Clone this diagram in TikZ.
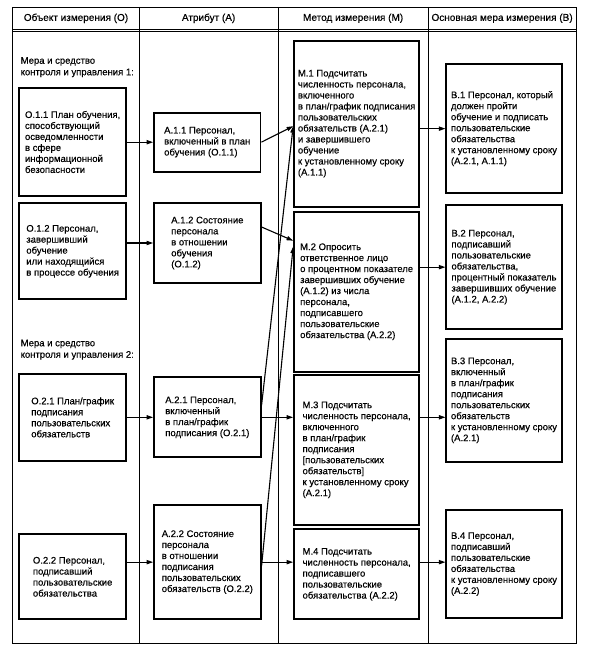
\documentclass[tikz,border=0pt]{standalone}
\usepackage{fontspec}
\setmainfont[FakeBold=0.4]{Liberation Sans}
\usetikzlibrary{arrows.meta,calc}
\begin{document}
\begin{tikzpicture}[x=1pt,y=-1pt,
  box/.style={draw, line width=1.7pt, align=left, inner sep=0pt, font=\fontsize{9.5}{11}\selectfont},
  hdr/.style={font=\fontsize{10}{12}\selectfont, inner sep=0pt},
  lbl/.style={align=left, inner sep=0pt, font=\fontsize{9.5}{11.5}\selectfont},
  frame/.style={line width=0.9pt},
  arr/.style={line width=1.1pt, -{Triangle[length=6.5pt,width=4.2pt]}}]
\newcommand\bx[6]{\node[box, minimum width={#3-#2}, minimum height={#5-#4}] (#1) at ({(#2+#3)/2},{(#4+#5)/2}) {#6};}
\useasboundingbox (0,0) rectangle (591,650);
% frame
\draw[frame] (12.7,7) rectangle (576,643);
\draw[frame] (139.3,7) -- (139.3,643);
\draw[frame] (278,7) -- (278,643);
\draw[frame] (428.3,7) -- (428.3,643);
\draw[line width=0.8pt] (12.7,29.3) -- (576,29.3);
\draw[line width=0.8pt] (12.7,31.8) -- (576,31.8);
% headers
\node[hdr] (h1) at (76,18.3) {Объект измерения (О)};
\node[hdr] (h2) at (208.6,18.3) {Атрибут (А)};
\node[hdr] (h3) at (353.1,18.3) {Метод измерения (М)};
\node[hdr] (h4) at (502.1,18.3) {Основная мера измерения (В)};
% labels
\node[lbl, anchor=north west] (l1) at (20.5,57) {Мера и средство\\контроля и управления 1:};
\node[lbl, anchor=north west] (l2) at (20.5,339.5) {Мера и средство\\контроля и управления 2:};
% boxes
\bx{O11}{19.3}{126}{88}{196}{О.1.1 План обучения,\\способствующий\\осведомленности\\в сфере\\информационной\\безопасности}
\bx{A11}{154}{260.5}{112.7}{171.7}{А.1.1 Персонал,\\включенный в план\\обучения (О.1.1)}
\bx{M1}{294}{419.3}{40.7}{206.7}{М.1 Подсчитать\\численность персонала,\\включенного\\в план/график подписания\\пользовательских\\обязательств (А.2.1)\\и завершившего\\обучение\\к установленному сроку\\(А.1.1)}
\bx{B1}{446.3}{561.7}{64}{193.3}{В.1 Персонал, который\\должен пройти\\обучение и подписать\\пользовательские\\обязательства\\к установленному сроку\\(А.2.1, А.1.1)}
\bx{O12}{19.3}{126}{203.3}{299.3}{О.1.2 Персонал,\\завершивший\\обучение\\или находящийся\\в процессе обучения}
\bx{A12}{154}{260.7}{203.3}{282.7}{А.1.2 Состояние\\персонала\\в отношении\\обучения\\(О.1.2)}
\bx{M2}{294}{419.3}{211.7}{371.7}{М.2 Опросить\\ответственное лицо\\о процентном показателе\\завершивших обучение\\(А.1.2) из числа\\персонала,\\подписавшего\\пользовательские\\обязательства (А.2.2)}
\bx{B2}{446.3}{561.7}{205}{329.3}{В.2 Персонал,\\подписавший\\пользовательские\\обязательства,\\процентный показатель\\завершивших обучение\\(А.1.2, А.2.2)}
\bx{O21}{19.3}{126}{374}{460.7}{О.2.1 План/график\\подписания\\пользовательских\\обязательств}
\bx{A21}{154}{260.7}{377.3}{457.3}{А.2.1 Персонал,\\включенный\\в план/график\\подписания (О.2.1)}
\bx{M3}{294}{419.3}{374.7}{525}{М.3 Подсчитать\\численность персонала,\\включенного\\в план/график\\подписания\\{[}пользовательских\\обязательств{]}\\к установленному сроку\\(А.2.1)}
\bx{B3}{446.3}{561.7}{339}{461.7}{В.3 Персонал,\\включенный\\в план/график\\подписания\\пользовательских\\обязательств\\к установленному сроку\\(А.2.1)}
\bx{O22}{19.3}{126}{534.3}{619.3}{О.2.2 Персонал,\\подписавший\\пользовательские\\обязательства}
\bx{A22}{154}{260.7}{505}{619.3}{А.2.2 Состояние\\персонала\\в отношении\\подписания\\пользовательских\\обязательств (О.2.2)}
\bx{M4}{294}{419.3}{529.3}{619.3}{М.4 Подсчитать\\численность персонала,\\подписавшего\\пользовательские\\обязательства (А.2.2)}
\bx{B4}{446.3}{561.7}{510}{618.3}{В.4 Персонал,\\подписавший\\пользовательские\\обязательства\\к установленному сроку\\(А.2.2)}
% arrows O -> A
\draw[arr] (O11.east |- A11.west) -- (A11.west);
\draw[arr] (O12.east |- A12.west) -- (A12.west);
\draw[arr] (O21.east |- A21.west) -- (A21.west);
\draw[arr] (O22.east |- A22.west) -- (A22.west);
% arrows A -> M
\draw[arr] (A11.east) -- ([yshift=-2.5pt]M1.west);
\draw[arr] ([yshift=16pt]A12.east) -- ([yshift=51pt]M2.west);
\draw[arr] ([yshift=12pt]A21.east) -- ([yshift=-2.5pt]M1.west);
\draw[arr] ([yshift=-4pt]A22.east) -- ([yshift=45pt]M2.west);
\draw[arr] (A21.east) -- (A21.east -| M3.west);
\draw[arr] (A22.east) -- (A22.east -| M4.west);
% arrows M -> B
\draw[arr] (M1.east |- B1.west) -- (B1.west);
\draw[arr] (M2.east |- B2.west) -- (B2.west);
\draw[arr] (M3.east |- A21.east) -- (A21.east -| B3.west);
\draw[arr] (M4.east |- A22.east) -- (A22.east -| B4.west);
\end{tikzpicture}
\end{document}
